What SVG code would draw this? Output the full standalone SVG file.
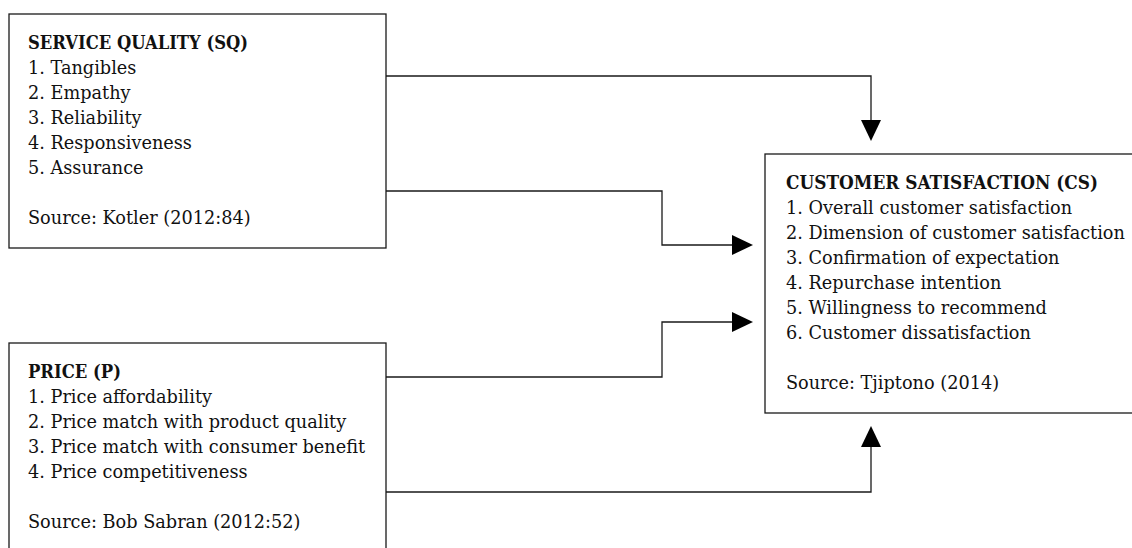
<svg xmlns="http://www.w3.org/2000/svg" width="1132" height="548" viewBox="0 0 1132 548">
  <defs>
    <style>
      .box { fill: #ffffff; stroke: #1a1a1a; stroke-width: 1.3; }
      .conn { fill: none; stroke: #1a1a1a; stroke-width: 1.3; }
      text { font-family: "DejaVu Serif", "Liberation Serif", serif; font-size: 17.7px; fill: #111111; }
      .title { font-weight: bold; font-size: 18px; }
    </style>
    <marker id="arrow" markerUnits="userSpaceOnUse" markerWidth="21" markerHeight="20" refX="0" refY="10" orient="auto" viewBox="0 0 21 20">
      <path d="M0,0 L21,10 L0,20 Z" fill="#000000"/>
    </marker>
  </defs>
  <rect width="1132" height="548" fill="#ffffff"/>

  <g id="connectors">
    <path class="conn" d="M386,76 H871 V120" marker-end="url(#arrow)"/>
    <path class="conn" d="M386,191 H662 V245 H732" marker-end="url(#arrow)"/>
    <path class="conn" d="M386,377 H662 V322 H732" marker-end="url(#arrow)"/>
    <path class="conn" d="M386,492 H871 V447" marker-end="url(#arrow)"/>
  </g>

  <g id="node-sq">
    <rect class="box" x="9" y="14" width="377" height="234"/>
    <text class="title" x="28" y="49" textLength="220" lengthAdjust="spacingAndGlyphs">SERVICE QUALITY (SQ)</text>
    <text x="28" y="74">1. Tangibles</text>
    <text x="28" y="99">2. Empathy</text>
    <text x="28" y="124">3. Reliability</text>
    <text x="28" y="149">4. Responsiveness</text>
    <text x="28" y="174">5. Assurance</text>
    <text x="28" y="224">Source: Kotler (2012:84)</text>
  </g>

  <g id="node-price">
    <rect class="box" x="9" y="343" width="377" height="220"/>
    <text class="title" x="28" y="378" textLength="93" lengthAdjust="spacingAndGlyphs">PRICE (P)</text>
    <text x="28" y="403">1. Price affordability</text>
    <text x="28" y="428">2. Price match with product quality</text>
    <text x="28" y="453">3. Price match with consumer benefit</text>
    <text x="28" y="478">4. Price competitiveness</text>
    <text x="28" y="528">Source: Bob Sabran (2012:52)</text>
  </g>

  <g id="node-cs">
    <rect class="box" x="765" y="154" width="380" height="259"/>
    <text class="title" x="786" y="189" textLength="312" lengthAdjust="spacingAndGlyphs">CUSTOMER SATISFACTION (CS)</text>
    <text x="786" y="214">1. Overall customer satisfaction</text>
    <text x="786" y="239">2. Dimension of customer satisfaction</text>
    <text x="786" y="264">3. Confirmation of expectation</text>
    <text x="786" y="289">4. Repurchase intention</text>
    <text x="786" y="314">5. Willingness to recommend</text>
    <text x="786" y="339">6. Customer dissatisfaction</text>
    <text x="786" y="389">Source: Tjiptono (2014)</text>
  </g>
</svg>
